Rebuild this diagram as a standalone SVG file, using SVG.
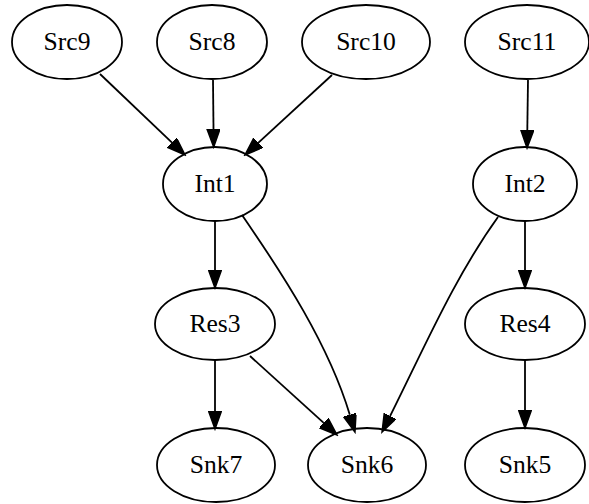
<svg xmlns="http://www.w3.org/2000/svg" width="589" height="504" viewBox="0 0 589 504">
<style>
.n ellipse{fill:none;stroke:#000;stroke-width:1.8}
.n text{font-size:25.6px;text-anchor:middle;fill:#000}
.e path{fill:none;stroke:#000;stroke-width:1.8;marker-end:url(#ah)}
</style>
<defs>
<marker id="ah" markerUnits="userSpaceOnUse" markerWidth="20" markerHeight="14" refX="0" refY="6.5" orient="auto">
<path d="M0,0 L18,6.5 L0,13 z" fill="#000" stroke="#000" stroke-width="1.5"/>
</marker>
</defs>
<rect width="589" height="504" fill="#fff"/>
<g id="edges" class="e">
<path d="M100,74 L172,142.6"/>
<path d="M213,80 L213.5,129"/>
<path d="M332,75 L258.2,142.8"/>
<path d="M528,80 L527.3,130"/>
<path d="M215,221 L215,270"/>
<path d="M525,221 L525,270"/>
<path d="M215,360 L215,411"/>
<path d="M525,360 L525,410"/>
<path d="M250,356 L323.7,422.9"/>
<path d="M242,215 C283.4,275 328.8,344.8 349.8,414.8"/>
<path d="M498,217 C454.8,277 425.1,346 390.1,416"/>
</g>
<g font-family="'Liberation Serif', 'DejaVu Serif', serif">
<g id="Src9" class="n"><ellipse cx="67" cy="42" rx="55" ry="37"/><text x="67" y="50">Src9</text></g>
<g id="Src8" class="n"><ellipse cx="212" cy="42" rx="55" ry="37"/><text x="212" y="50">Src8</text></g>
<g id="Src10" class="n"><ellipse cx="366" cy="42" rx="64" ry="37"/><text x="366" y="50">Src10</text></g>
<g id="Src11" class="n"><ellipse cx="527" cy="42" rx="62" ry="37"/><text x="527" y="50">Src11</text></g>
<g id="Int1" class="n"><ellipse cx="215" cy="184" rx="52" ry="37"/><text x="215" y="192">Int1</text></g>
<g id="Int2" class="n"><ellipse cx="525" cy="184" rx="52" ry="37"/><text x="525" y="192">Int2</text></g>
<g id="Res3" class="n"><ellipse cx="215" cy="324" rx="60" ry="36"/><text x="215" y="332">Res3</text></g>
<g id="Res4" class="n"><ellipse cx="525" cy="324" rx="60" ry="36"/><text x="525" y="332">Res4</text></g>
<g id="Snk7" class="n"><ellipse cx="216" cy="465" rx="59" ry="37"/><text x="216" y="473">Snk7</text></g>
<g id="Snk6" class="n"><ellipse cx="367" cy="465" rx="59" ry="37"/><text x="367" y="473">Snk6</text></g>
<g id="Snk5" class="n"><ellipse cx="525" cy="465" rx="60" ry="37"/><text x="525" y="473">Snk5</text></g>
</g>
</svg>
